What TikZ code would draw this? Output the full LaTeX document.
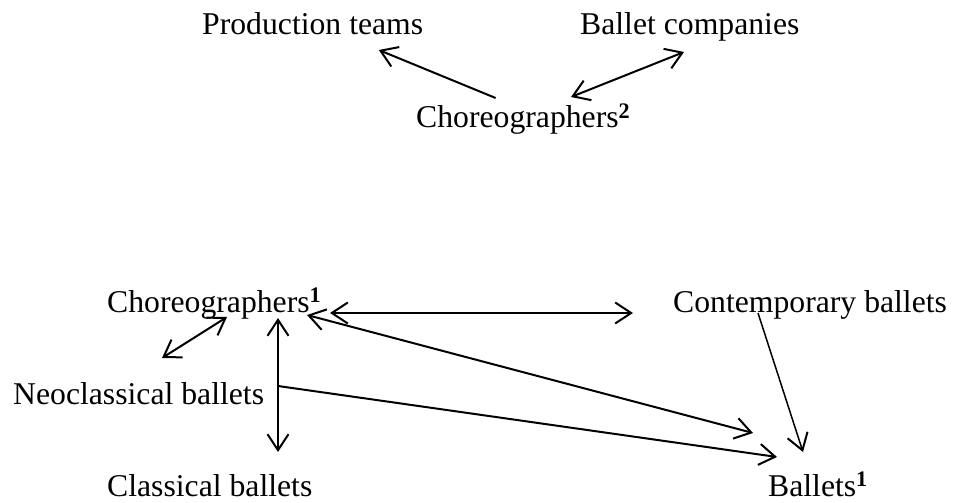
\documentclass[tikz,border=0pt]{standalone}
\usepackage{fontspec}
\setmainfont{Liberation Serif}
\usetikzlibrary{arrows.meta,calc}
\tikzset{
  lbl/.style={inner sep=0pt, anchor=base west, font=\fontsize{31.7}{38}\selectfont},
  conn/.style={line width=2pt, -{Straight Barb[length=16pt,width=21pt,line width=2pt]}},
  conn2/.style={line width=2pt, {Straight Barb[length=16pt,width=21pt,line width=2pt]}-{Straight Barb[length=16pt,width=21pt,line width=2pt]}}
}
\newcommand{\supb}[1]{\textsuperscript{\textbf{#1}}}
\begin{document}
\begin{tikzpicture}[x=1pt,y=-1pt]
\useasboundingbox (0,0) rectangle (954,503);
\node[lbl] (pt)  at (202,35)  {Production teams};
\node[lbl] (bc)  at (580,35)  {Ballet companies};
\node[lbl] (ch2) at (416,128) {Choreographers\supb{2}};
\node[lbl] (c1)  at (107,312) {Choreographers\supb{1}};
\node[lbl] (neo) at (13,404)  {Neoclassical ballets};
\node[lbl] (cls) at (107,496) {Classical ballets};
\node[lbl] (con) at (673,312) {Contemporary ballets};
\node[lbl] (bal) at (768,496) {Ballets\supb{1}};

\draw[conn]  ($(ch2.base west)+(79.6,-30)$) -- ($(pt.base west)+(176.8,15)$);
\draw[conn2] ($(ch2.base west)+(155,-31)$) -- ($(bc.base west)+(104,17)$);
\draw[conn2] ($(c1.base west)+(120,5)$) -- ($(neo.base west)+(149,-46)$);
\draw[conn2] ($(c1.base west)+(171,6)$) -- ($(cls.base west)+(171,-44)$);
\draw[conn2] ($(c1.base west)+(223,1)$) -- ($(con.base west)+(-40,1)$);
\draw[conn2] ($(c1.base west)+(200,3)$) -- ($(bal.base west)+(-15,-63)$);
\draw[conn]  ($(neo.base west)+(265,-18)$) -- ($(bal.base west)+(9,-39)$);
\draw[conn,line width=1.5pt]  ($(con.base west)+(85,1)$) -- ($(bal.base west)+(35,-44)$);
\end{tikzpicture}
\end{document}
